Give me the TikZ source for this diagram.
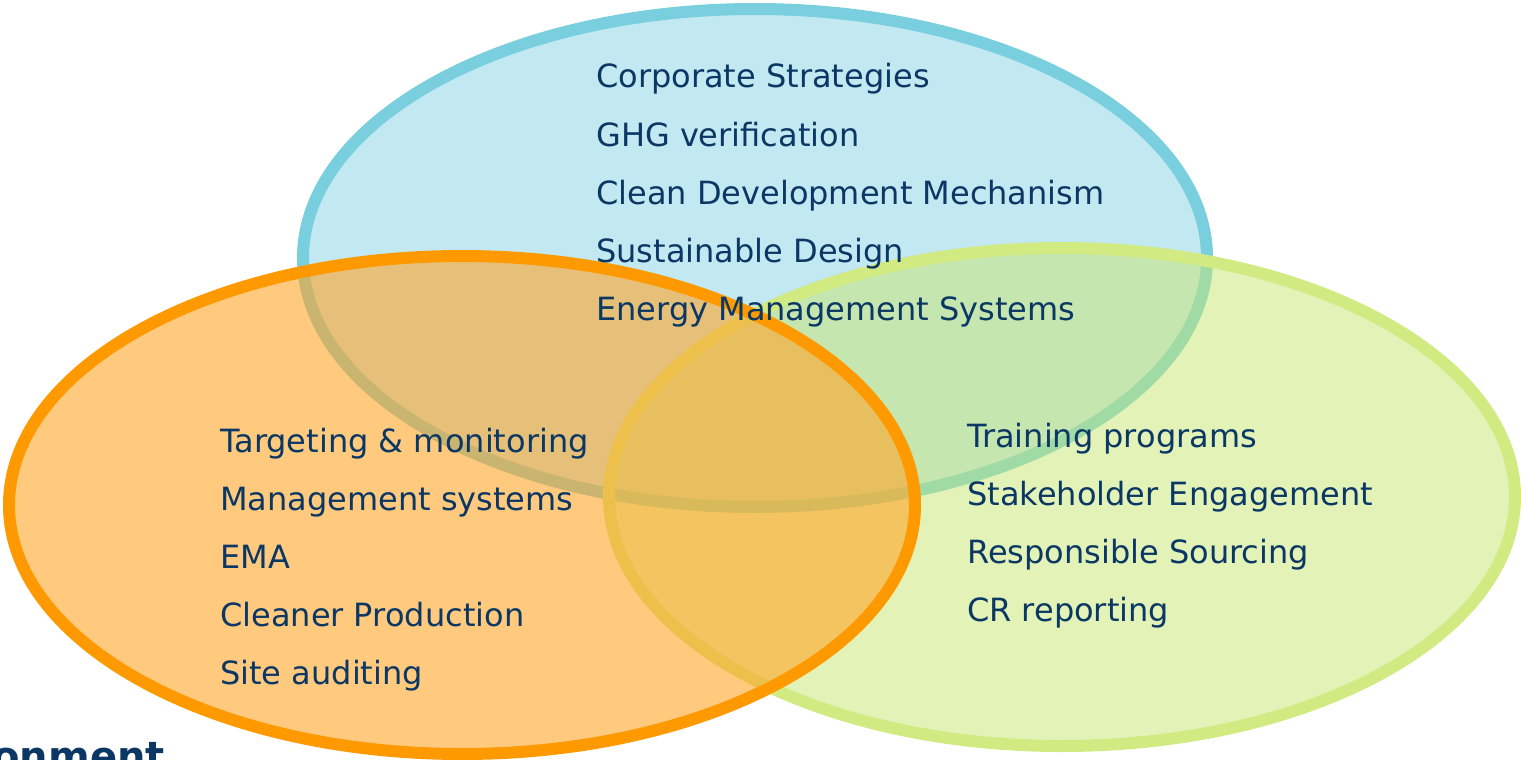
\documentclass[tikz,border=0pt]{standalone}
\usepackage{fontspec}
\setmainfont{DejaVu Sans}
\definecolor{bluefill}{RGB}{120,205,225}
\definecolor{blueline}{RGB}{121,207,222}
\definecolor{orangefill}{RGB}{255,165,40}
\definecolor{orangeline}{RGB}{255,153,0}
\definecolor{greenfill}{RGB}{200,230,110}
\definecolor{greenline}{RGB}{210,234,130}
\definecolor{navy}{RGB}{10,55,100}
\begin{document}
\begin{tikzpicture}[x=1pt,y=-1pt,
  lbl/.style={anchor=base west,inner sep=0pt,text=navy,font=\fontsize{32}{38}\selectfont},
  ring/.style={line width=12pt}]
\useasboundingbox (0,0) rectangle (1521,760);
\begin{scope}
\clip (0,0) rectangle (1521,760);
\path[ring,draw=blueline,fill=bluefill,fill opacity=0.45] (755,258) ellipse [x radius=452pt,y radius=249pt];
\path[ring,draw=greenline,fill=greenfill,fill opacity=0.5] (1062,497) ellipse [x radius=453pt,y radius=249pt];
\path[ring,draw=orangeline,fill=orangefill,fill opacity=0.6] (462,505) ellipse [x radius=453pt,y radius=249pt];
\node[anchor=base east,inner sep=0pt,text=navy,font=\fontsize{40}{44}\selectfont\bfseries] (env) at (165,770) {Environment};
\end{scope}
\node[lbl] (c1) at (596,88) {Corporate Strategies};
\node[lbl] (c2) at (596,146) {GHG verification};
\node[lbl] (c3) at (596,204) {Clean Development Mechanism};
\node[lbl] (c4) at (596,262) {Sustainable Design};
\node[lbl] (c5) at (596,320) {Energy Management Systems};
\node[lbl] (e1) at (220,452) {Targeting \& monitoring};
\node[lbl] (e2) at (220,510) {Management systems};
\node[lbl] (e3) at (220,568) {EMA};
\node[lbl] (e4) at (220,626) {Cleaner Production};
\node[lbl] (e5) at (220,684) {Site auditing};
\node[lbl] (s1) at (967,447) {Training programs};
\node[lbl] (s2) at (967,505) {Stakeholder Engagement};
\node[lbl] (s3) at (967,563) {Responsible Sourcing};
\node[lbl] (s4) at (967,621) {CR reporting};
\end{tikzpicture}
\end{document}
